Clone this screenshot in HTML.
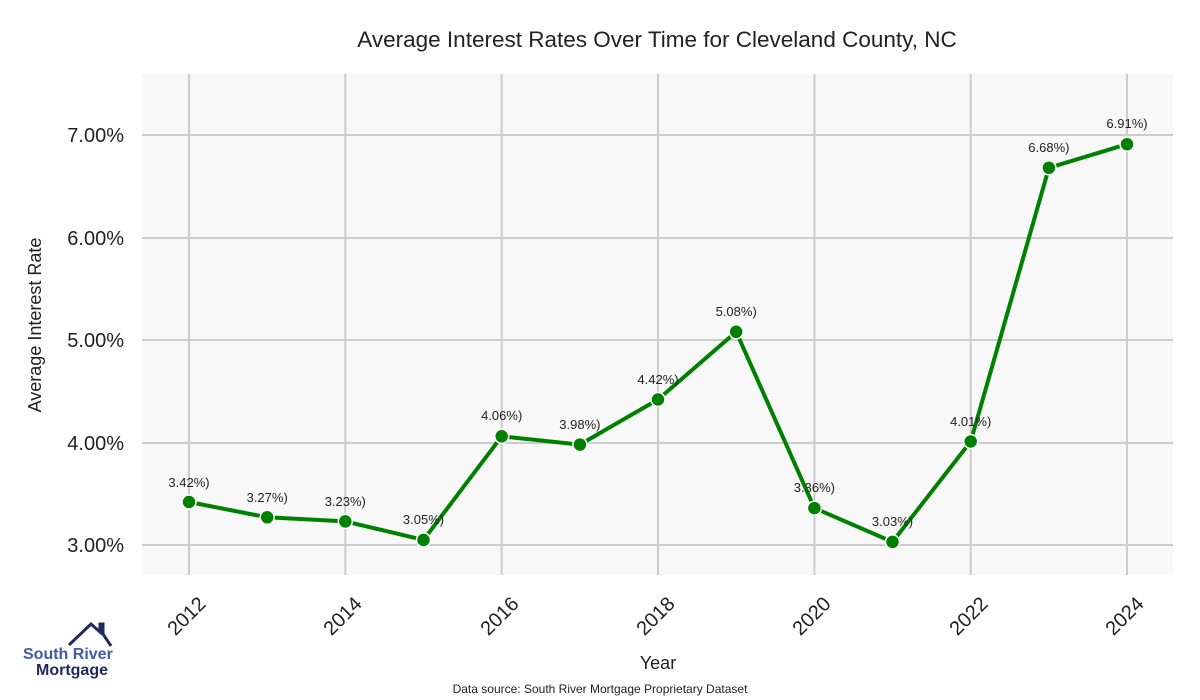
<!DOCTYPE html>
<html><head><meta charset="utf-8"><style>
html,body{margin:0;padding:0;background:#fff;}
svg{display:block;font-family:"Liberation Sans",sans-serif;}
</style></head><body>
<svg width="1200" height="700" viewBox="0 0 1200 700">
<rect x="142" y="74" width="1031" height="501" fill="#f8f8f8"/>
<g stroke="#cccccc" stroke-width="2">
<line x1="142" x2="1173" y1="545" y2="545"/>
<line x1="142" x2="1173" y1="443" y2="443"/>
<line x1="142" x2="1173" y1="340" y2="340"/>
<line x1="142" x2="1173" y1="238" y2="238"/>
<line x1="142" x2="1173" y1="135" y2="135"/>
<line x1="189" x2="189" y1="74" y2="575"/>
<line x1="345.3" x2="345.3" y1="74" y2="575"/>
<line x1="501.7" x2="501.7" y1="74" y2="575"/>
<line x1="658" x2="658" y1="74" y2="575"/>
<line x1="814.4" x2="814.4" y1="74" y2="575"/>
<line x1="970.7" x2="970.7" y1="74" y2="575"/>
<line x1="1127" x2="1127" y1="74" y2="575"/>
</g>
<text x="657" y="47" text-anchor="middle" font-size="22.5" fill="#222">Average Interest Rates Over Time for Cleveland County, NC</text>
<g font-size="20" fill="#222" text-anchor="end">
<text x="124" y="552">3.00%</text>
<text x="124" y="450">4.00%</text>
<text x="124" y="347">5.00%</text>
<text x="124" y="245">6.00%</text>
<text x="124" y="142">7.00%</text>
</g>
<text transform="translate(41,325) rotate(-90)" text-anchor="middle" font-size="18" fill="#222">Average Interest Rate</text>
<g font-size="20" fill="#222" text-anchor="end">
<text transform="translate(207,605) rotate(-45)">2012</text>
<text transform="translate(363,605) rotate(-45)">2014</text>
<text transform="translate(520,605) rotate(-45)">2016</text>
<text transform="translate(676,605) rotate(-45)">2018</text>
<text transform="translate(832,605) rotate(-45)">2020</text>
<text transform="translate(989,605) rotate(-45)">2022</text>
<text transform="translate(1145,605) rotate(-45)">2024</text>
</g>
<text x="658" y="669" text-anchor="middle" font-size="18" fill="#222">Year</text>
<text x="600" y="693" text-anchor="middle" font-size="12" fill="#222">Data source: South River Mortgage Proprietary Dataset</text>
<polyline fill="none" stroke="#008000" stroke-width="4" stroke-linejoin="round" points="189,502 267.2,517.3 345.3,521.4 423.5,539.9 501.7,436.3 579.9,444.6 658,399.5 736.2,331.8 814.4,508.1 892.5,541.9 970.7,441.5 1048.9,167.8 1127,144.2"/>
<g fill="#008000" stroke="#fff" stroke-width="1.5">
<circle cx="189" cy="502" r="7"/><circle cx="267.2" cy="517.3" r="7"/><circle cx="345.3" cy="521.4" r="7"/><circle cx="423.5" cy="539.9" r="7"/><circle cx="501.7" cy="436.3" r="7"/><circle cx="579.9" cy="444.6" r="7"/><circle cx="658" cy="399.5" r="7"/><circle cx="736.2" cy="331.8" r="7"/><circle cx="814.4" cy="508.1" r="7"/><circle cx="892.5" cy="541.9" r="7"/><circle cx="970.7" cy="441.5" r="7"/><circle cx="1048.9" cy="167.8" r="7"/><circle cx="1127" cy="144.2" r="7"/>
</g>
<g font-size="13" fill="#222" text-anchor="middle">
<text x="189" y="487">3.42%)</text>
<text x="267.2" y="502">3.27%)</text>
<text x="345.3" y="506">3.23%)</text>
<text x="423.5" y="524">3.05%)</text>
<text x="501.7" y="420">4.06%)</text>
<text x="579.9" y="429">3.98%)</text>
<text x="658" y="384">4.42%)</text>
<text x="736.2" y="316">5.08%)</text>
<text x="814.4" y="492">3.36%)</text>
<text x="892.5" y="526">3.03%)</text>
<text x="970.7" y="426">4.01%)</text>
<text x="1048.9" y="152">6.68%)</text>
<text x="1127" y="128">6.91%)</text>
</g>
<polyline fill="none" stroke="#1f2a5c" stroke-width="3" points="69,645 91,624 100,632 100,624 103,624 103,634 111,646"/>
<text x="23" y="659" font-size="16" font-weight="bold" fill="#3f5aa8">South River</text>
<text x="36" y="675" font-size="16" font-weight="bold" fill="#1f2a5c">Mortgage</text>
</svg>
</body></html>
